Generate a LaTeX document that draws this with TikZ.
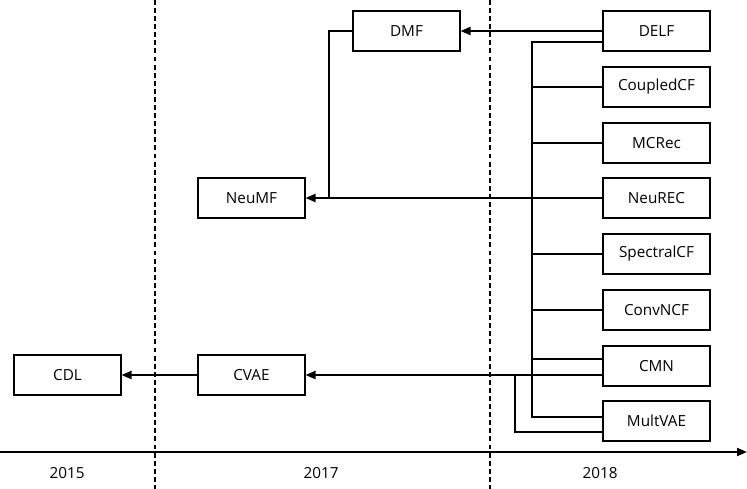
\documentclass[tikz,border=0pt]{standalone}
\usepackage{fontspec}
\setmainfont{Open Sans}
\usetikzlibrary{arrows.meta}

\begin{document}
\begin{tikzpicture}[
    x=0.02cm, y=-0.02cm,
    model/.style={
        draw, line width=0.6pt,
        minimum width=2.14cm, minimum height=0.8cm,
        font=\fontsize{8.7}{10}\selectfont,
    },
    link/.style={line width=1.1pt},
    arr/.style={link, -{Triangle[length=2mm, width=1.6mm]}},
    yearsep/.style={line width=0.6pt, dash pattern=on 2.8pt off 1.8pt},
    yearlabel/.style={font=\fontsize{8.7}{10}\selectfont},
]
\useasboundingbox (0,0) rectangle (747,489);

% -- year separators --
\draw[yearsep] (155,0) -- (155,489);
\draw[yearsep] (490,0) -- (490,489);

% -- 2018 models --
\node[model] (delf) at (656.5, 31) {DELF};
\node[model] (coupledcf) at (656.5, 87) {CoupledCF};
\node[model] (mcrec) at (656.5, 143) {MCRec};
\node[model] (neurec) at (656.5, 198) {NeuREC};
\node[model] (spectralcf) at (656.5, 254) {SpectralCF};
\node[model] (convncf) at (656.5, 310) {ConvNCF};
\node[model] (cmn) at (656.5, 366) {CMN};
\node[model] (multvae) at (656.5, 421) {MultVAE};

% -- 2017 models --
\node[model] (dmf) at (406.5, 31) {DMF};
\node[model] (neumf) at (251.5, 198) {NeuMF};
\node[model] (cvae) at (251.5, 375) {CVAE};

% -- 2015 model --
\node[model] (cdl) at (67.5, 375) {CDL};

% -- bends --
\coordinate (bus) at (532, 0);
\coordinate (dmfdrop) at (329, 0);
\coordinate (vaedrop) at (515, 0);

% -- connectors --
\draw[arr] (delf.west) -- (dmf.east);
\draw[link] ([yshift=-0.22cm]delf.west) -| (bus |- 0,417) -- (multvae.west |- 0,417);
\draw[link] (bus |- coupledcf.west) -- (coupledcf.west);
\draw[link] (bus |- mcrec.west) -- (mcrec.west);
\draw[link] (bus |- spectralcf.west) -- (spectralcf.west);
\draw[link] (bus |- convncf.west) -- (convncf.west);
\draw[link] (bus |- 0,359) -- (cmn.west |- 0,359);
\draw[arr] (neurec.west) -- (neumf.east);
\draw[link] (dmf.west) -| (dmfdrop |- neumf.east);
\draw[arr] (cmn.west |- cvae.east) -- (cvae.east);
\draw[link] (multvae.west |- 0,432) -| (vaedrop |- cvae.east);
\draw[arr] (cvae.west) -- (cdl.east);

% -- time axis --
\coordinate (axl) at (0, 452);
\coordinate (axr) at (747, 452);
\draw[arr] (axl) -- (axr);

\node[yearlabel] (y2015) at (67, 473) {2015};
\node[yearlabel] (y2017) at (321, 473) {2017};
\node[yearlabel] (y2018) at (600, 473) {2018};

\end{tikzpicture}
\end{document}
